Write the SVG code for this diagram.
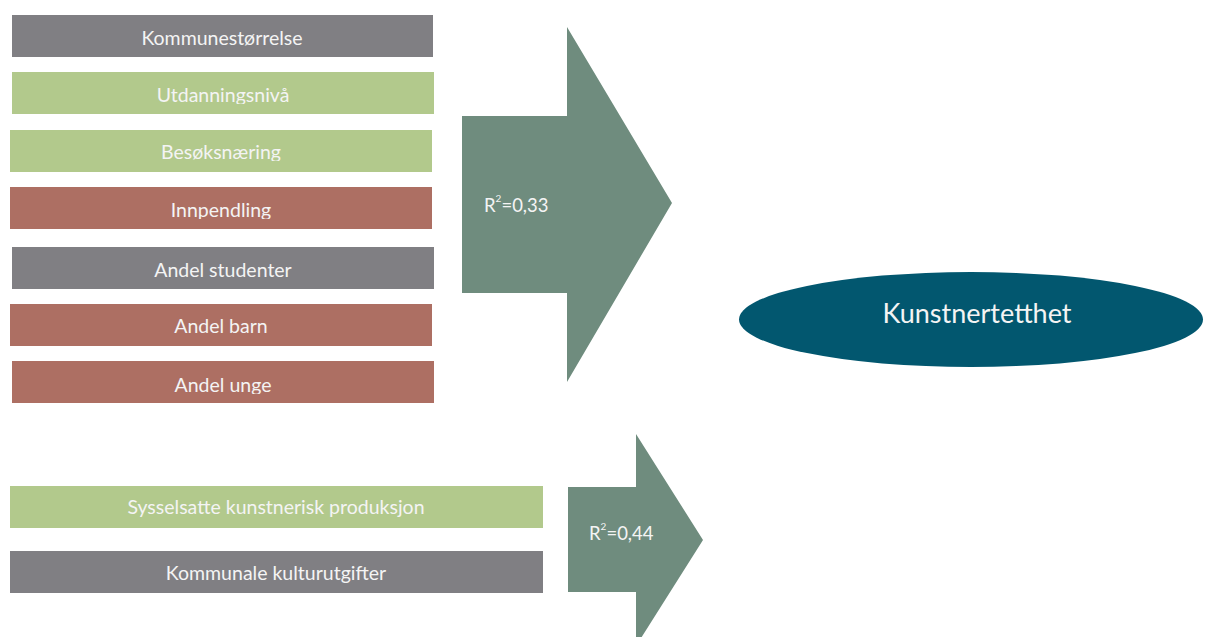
<svg xmlns="http://www.w3.org/2000/svg" width="1208" height="637" viewBox="0 0 1208 637">
<style>
.gray{fill:#807f83}
.green{fill:#b2c98c}
.red{fill:#ad6f63}
.arrow{fill:#6f8c7e}
.t{font-family:Lato,"Open Sans",sans-serif;font-size:19.5px;fill:#f4f4f4;text-anchor:middle}
.r{font-family:Lato,"Open Sans",sans-serif;font-size:18.5px;fill:#f4f4f4}
.sup{font-size:10px}
.big{font-family:Lato,"Open Sans",sans-serif;font-size:27px;fill:#f4f4f4;text-anchor:middle}
</style>
<defs>
<clipPath id="c2"><rect x="0" y="0" width="1208" height="104"/></clipPath>
<clipPath id="c3"><rect x="0" y="0" width="1208" height="161"/></clipPath>
<clipPath id="c4"><rect x="0" y="0" width="1208" height="219"/></clipPath>
<clipPath id="c7"><rect x="0" y="0" width="1208" height="394"/></clipPath>
<clipPath id="c8"><rect x="0" y="0" width="1208" height="517"/></clipPath>
<clipPath id="c9"><rect x="0" y="0" width="1208" height="583"/></clipPath>
</defs>
<rect width="1208" height="637" fill="#ffffff"/>
<g id="connectors">
<g id="arrow1"><polygon class="arrow" points="462,116 567,116 567,27 672,203 567,382 567,293 462,293"/>
<text class="r" x="484" y="212">R<tspan class="sup" dy="-10">2</tspan><tspan dy="10">=0,33</tspan></text></g>
<g id="arrow2"><polygon class="arrow" points="568,487 636,487 636,434 703,540 636,646 636,592 568,592"/>
<text class="r" x="589" y="540">R<tspan class="sup" dy="-10">2</tspan><tspan dy="10">=0,44</tspan></text></g>
</g>
<g id="n1"><rect class="gray" x="12" y="15" width="421" height="42"/><text class="t" x="222" y="45">Kommunestørrelse</text></g>
<g id="n2"><rect class="green" x="12" y="72" width="422" height="42"/><text class="t" x="223" y="102" clip-path="url(#c2)">Utdanningsnivå</text></g>
<g id="n3"><rect class="green" x="10" y="130" width="422" height="42"/><text class="t" x="221" y="159" clip-path="url(#c3)">Besøksnæring</text></g>
<g id="n4"><rect class="red" x="10" y="187" width="422" height="42"/><text class="t" x="221" y="217" clip-path="url(#c4)">Innpendling</text></g>
<g id="n5"><rect class="gray" x="12" y="247" width="422" height="42"/><text class="t" x="223" y="277">Andel studenter</text></g>
<g id="n6"><rect class="red" x="10" y="304" width="422" height="42"/><text class="t" x="221" y="333">Andel barn</text></g>
<g id="n7"><rect class="red" x="12" y="361" width="422" height="42"/><text class="t" x="223" y="392" clip-path="url(#c7)">Andel unge</text></g>
<g id="n8"><rect class="green" x="10" y="486" width="533" height="42"/><text class="t" x="276" y="514" clip-path="url(#c8)">Sysselsatte kunstnerisk produksjon</text></g>
<g id="n9"><rect class="gray" x="10" y="551" width="533" height="42"/><text class="t" x="276" y="580" clip-path="url(#c9)">Kommunale kulturutgifter</text></g>
<g id="n10"><ellipse cx="971" cy="319.5" rx="232" ry="47.5" fill="#02576f"/><text class="big" x="977" y="323">Kunstnertetthet</text></g>
</svg>
